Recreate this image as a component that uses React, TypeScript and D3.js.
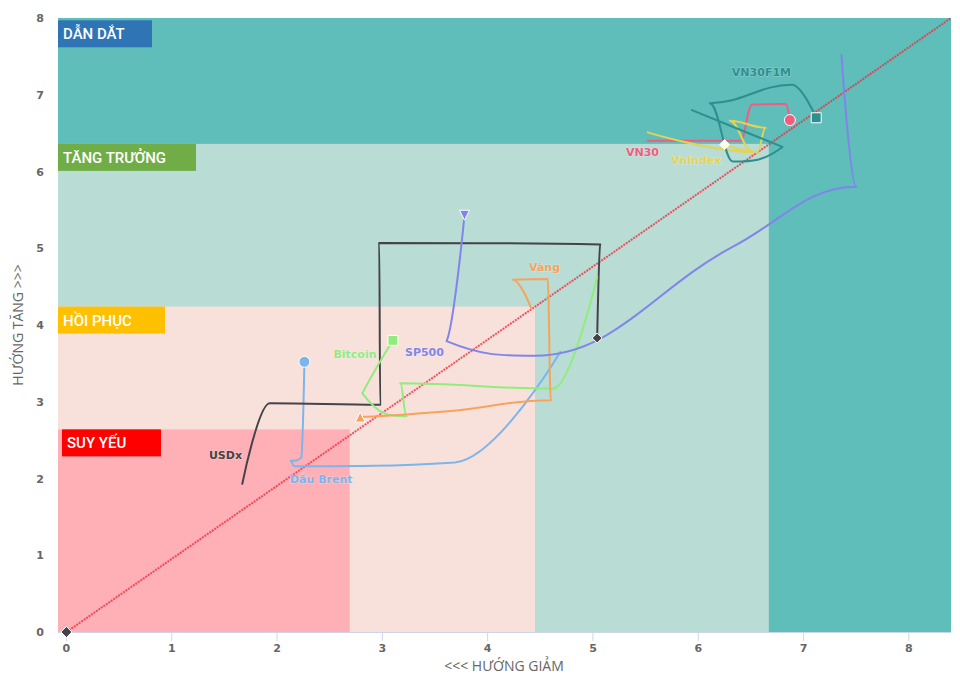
import React from "react";
import * as d3 from "d3";

// ---- Axis ticks ----
const xTicks = [0, 1, 2, 3, 4, 5, 6, 7, 8];
const yTicks = [0, 1, 2, 3, 4, 5, 6, 7, 8];

// ---- Zones (nested rectangles from the origin) ----
const zoneNames = ["DẪN DẮT", "TĂNG TRƯỞNG", "HỒI PHỤC", "SUY YẾU"];
const zoneMaxX = [8.4, 6.67, 4.45, 2.69];
const zoneMaxY = [8, 6.36, 4.24, 2.64];
const zoneFill = ["#5fbdba", "#b9dcd5", "#f9e1db", "#feb0b6"];
const zoneLabelFill = ["#2f74b5", "#70ad47", "#ffc000", "#ff0000"];
const zoneLabelTopY = [7.97, 6.36, 4.24, 2.64];

// ---- Series ----
const seriesNames = ["Dầu Brent", "USDx", "Bitcoin", "Vàng", "SP500", "VN30", "Vnindex", "VN30F1M"];
const seriesColors = ["#7cb5ec", "#434348", "#90ed7d", "#f7a35c", "#8085e9", "#f15c80", "#e4d354", "#2b908f"];
const seriesMarkers = ["circle", "diamond", "square", "triangle", "triangle-down", "circle", "diamond", "square"];
const markerFills = ["#7cb5ec", "#434348", "#90ed7d", "#f7a35c", "#8085e9", "#f15c80", "#fffbea", "#2b908f"];

const brentX = [4.69, 3.69, 2.16, 2.13, 2.23, 2.26];
const brentY = [3.65, 2.21, 2.16, 2.23, 2.27, 3.52];
const usdxX = [1.67, 1.93, 2.98, 2.97, 5.07, 5.04];
const usdxY = [1.93, 2.98, 2.96, 5.07, 5.05, 3.83];
const bitcoinX = [5.04, 4.62, 3.17, 3.23, 2.81, 3.10];
const bitcoinY = [4.63, 3.17, 3.24, 2.81, 3.11, 3.80];
const vangX = [4.41, 4.24, 4.57, 4.60, 3.65, 2.79];
const vangY = [4.23, 4.59, 4.60, 3.02, 2.88, 2.80];
const sp500X = [7.36, 7.50, 6.33, 4.45, 3.61, 3.78];
const sp500Y = [7.52, 5.80, 5.02, 3.60, 3.79, 5.43];
const vn30X = [5.52, 6.40, 6.51, 6.83, 6.87];
const vn30Y = [6.40, 6.40, 6.87, 6.88, 6.67];
const vnindexX = [5.52, 6.56, 6.64, 6.30, 6.51, 6.25];
const vnindexY = [6.51, 6.25, 6.57, 6.66, 6.27, 6.35];
const vn30f1mX = [5.94, 6.80, 6.33, 6.11, 6.89, 7.12];
const vn30f1mY = [6.80, 6.32, 6.13, 6.89, 7.13, 6.70];

const seriesXs = [brentX, usdxX, bitcoinX, vangX, sp500X, vn30X, vnindexX, vn30f1mX];
const seriesYs = [brentY, usdxY, bitcoinY, vangY, sp500Y, vn30Y, vnindexY, vn30f1mY];

// data label anchor positions (data units)
const labelX = [2.42, 1.51, 2.74, 4.54, 3.40, 5.47, 5.98, 6.60];
const labelY = [1.99, 2.31, 3.62, 4.76, 3.65, 6.25, 6.15, 7.30];

// origin point
const originX = [0];
const originY = [0];

const W = 960;
const H = 689;

// Highcharts-like spline in pixel space
function hcSpline(pts: [number, number][]): string {
  const smoothing = 1.5;
  const denom = smoothing + 1;
  let d = "";
  let prevRight: [number, number] | null = null;
  pts.forEach((p, i) => {
    const [px, py] = p;
    if (i === 0) {
      d += `M${px},${py}`;
      return;
    }
    const last = pts[i - 1];
    const next = pts[i + 1];
    let lcx = px, lcy = py, rcx = px, rcy = py;
    if (next) {
      lcx = (smoothing * px + last[0]) / denom;
      lcy = (smoothing * py + last[1]) / denom;
      rcx = (smoothing * px + next[0]) / denom;
      rcy = (smoothing * py + next[1]) / denom;
      if (rcx !== lcx) {
        const corr = ((rcy - lcy) * (rcx - px)) / (rcx - lcx) + py - rcy;
        lcy += corr;
        rcy += corr;
      }
      if (lcy > last[1] && lcy > py) {
        lcy = Math.max(last[1], py);
        rcy = 2 * py - lcy;
      } else if (lcy < last[1] && lcy < py) {
        lcy = Math.min(last[1], py);
        rcy = 2 * py - lcy;
      }
      if (rcy > next[1] && rcy > py) {
        rcy = Math.max(next[1], py);
        lcy = 2 * py - rcy;
      } else if (rcy < next[1] && rcy < py) {
        rcy = Math.min(next[1], py);
        lcy = 2 * py - rcy;
      }
    }
    const c1 = prevRight || last;
    d += `C${c1[0]},${c1[1]} ${lcx},${lcy} ${px},${py}`;
    prevRight = next ? [rcx, rcy] : null;
  });
  return d;
}

function markerPath(type: string, x: number, y: number, r: number): string {
  switch (type) {
    case "square":
      return `M${x - r},${y - r}H${x + r}V${y + r}H${x - r}Z`;
    case "diamond":
      return `M${x},${y - r}L${x + r},${y}L${x},${y + r}L${x - r},${y}Z`;
    case "triangle":
      return `M${x},${y - r}L${x + r},${y + r}L${x - r},${y + r}Z`;
    case "triangle-down":
      return `M${x - r},${y - r}L${x + r},${y - r}L${x},${y + r}Z`;
    default:
      return `M${x - r},${y}A${r},${r} 0 1 1 ${x + r},${y}A${r},${r} 0 1 1 ${x - r},${y}Z`;
  }
}

export default function App() {
  const plotLeft = 58;
  const plotRight = 951;
  const plotTop = 18;
  const plotBottom = 632;
  const x = d3.scaleLinear().domain([-0.08, 8.4]).range([plotLeft, plotRight]);
  const y = d3.scaleLinear().domain([0, 8]).range([plotBottom, plotTop]);

  const zoneLabelW = [94, 138, 107, 99];
  const zoneLabelOffX = [0, 0, 0, 4];

  return (
    <svg
      width={W}
      height={H}
      style={{ position: "absolute", left: 0, top: 0, background: "#fff" }}
      fontFamily="'Open Sans', 'DejaVu Sans', sans-serif"
    >
      {/* zones */}
      {zoneNames.map((n, i) => (
        <rect
          key={"z" + i}
          x={x(-0.08)}
          y={y(zoneMaxY[i])}
          width={x(zoneMaxX[i]) - x(-0.08)}
          height={y(0) - y(zoneMaxY[i])}
          fill={zoneFill[i]}
        />
      ))}
      {/* zone labels */}
      {zoneNames.map((n, i) => (
        <g key={"zl" + i}>
          <rect
            x={x(-0.08) + zoneLabelOffX[i]}
            y={y(zoneLabelTopY[i])}
            width={zoneLabelW[i]}
            height={27}
            fill={zoneLabelFill[i]}
          />
          <text
            x={x(-0.08) + zoneLabelOffX[i] + 5}
            y={y(zoneLabelTopY[i]) + 19}
            fill="#fff"
            fontFamily="Roboto, sans-serif"
            fontWeight={500}
            fontSize={15}
          >
            {n}
          </text>
        </g>
      ))}

      {/* x axis */}
      <line x1={plotLeft} x2={plotRight} y1={plotBottom + 0.5} y2={plotBottom + 0.5} stroke="#ccd6eb" />
      {xTicks.map((t) => (
        <g key={"xt" + t}>
          <line x1={x(t)} x2={x(t)} y1={plotBottom} y2={plotBottom + 9} stroke="#ccd6eb" />
          <text x={x(t)} y={plotBottom + 20} textAnchor="middle" fontSize={11} fontWeight="bold" fill="#666" fontFamily="'DejaVu Sans', sans-serif">
            {t}
          </text>
        </g>
      ))}
      {yTicks.map((t) => (
        <text key={"yt" + t} x={44} y={y(t) + 4} textAnchor="end" fontSize={11} fontWeight="bold" fill="#666" fontFamily="'DejaVu Sans', sans-serif">
          {t}
        </text>
      ))}
      <text x={504} y={671} textAnchor="middle" fontSize={14} fill="#666" fontFamily="'Open Sans', sans-serif">
        {"<<< HƯỚNG GIẢM"}
      </text>
      <text
        transform={`translate(23,${(plotTop + plotBottom) / 2}) rotate(-90)`}
        textAnchor="middle"
        fontSize={14}
        fill="#666"
        fontFamily="'Open Sans', sans-serif"
      >
        {"HƯỚNG TĂNG >>>"}
      </text>

      {/* diagonal */}
      <line
        x1={x(0)}
        y1={y(0)}
        x2={x(8.4)}
        y2={y(8)}
        stroke="#ee3040"
        strokeOpacity={0.8}
        strokeWidth={2}
        strokeDasharray="2,1"
      />

      {/* series */}
      {seriesNames.map((n, i) => {
        const pts: [number, number][] = seriesXs[i].map((v, j) => [x(v), y(seriesYs[i][j])]);
        return (
          <path key={"s" + i} d={hcSpline(pts)} fill="none" stroke={seriesColors[i]} strokeWidth={2} strokeLinejoin="round" strokeLinecap="round" />
        );
      })}
      {seriesNames.map((n, i) => {
        const k = seriesXs[i].length - 1;
        return (
          <path
            key={"m" + i}
            d={markerPath(seriesMarkers[i], x(seriesXs[i][k]), y(seriesYs[i][k]), seriesMarkers[i] === "circle" ? 5.5 : 5)}
            fill={markerFills[i]}
            stroke="#fff"
            strokeWidth={1}
          />
        );
      })}
      {originX.map((v, i) => (
        <path key={"o" + i} d={markerPath("diamond", x(v), y(originY[i]), 5.5)} fill="#434348" stroke="#fff" strokeWidth={1} />
      ))}

      {/* labels */}
      {seriesNames.map((n, i) => (
        <text
          key={"l" + i}
          x={x(labelX[i])}
          y={y(labelY[i]) + 4}
          textAnchor="middle"
          fontSize={11}
          fontWeight="bold"
          fill={seriesColors[i]}
          stroke="rgba(255,255,255,0.35)"
          strokeWidth={1}
          paintOrder="stroke"
          fontFamily="'DejaVu Sans', sans-serif"
        >
          {n}
        </text>
      ))}
    </svg>
  );
}
